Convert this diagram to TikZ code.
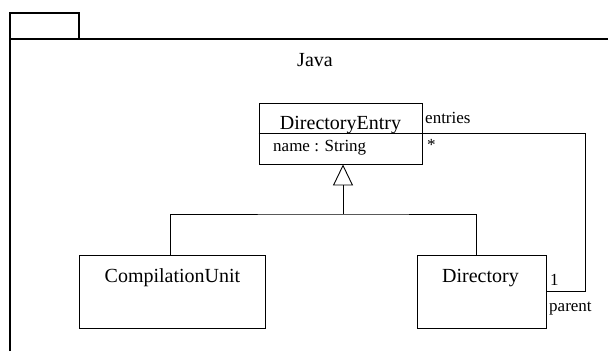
\documentclass[tikz,border=0pt]{standalone}
\usepackage{fontspec}
\setmainfont{Liberation Serif}
\usetikzlibrary{positioning,arrows.meta}

\tikzset{
  classbox/.style={draw, line width=0.9bp, inner sep=0pt},
  classname/.style={font=\fontsize{20bp}{24bp}\selectfont, inner sep=0pt},
  rolelabel/.style={font=\fontsize{17bp}{20bp}\selectfont, inner sep=0pt, anchor=base west},
  umlline/.style={line width=0.9bp},
}

\begin{document}
\begin{tikzpicture}[x=1bp, y=-1bp]
    \useasboundingbox (0,0) rectangle (608,351);

    % Package frame with its tab
    \node[draw, line width=1.1bp, minimum width=69bp, minimum height=26bp, inner sep=0pt] (tab) at (44.5,26) {};
    \coordinate (pkgbl) at (10,351);
    \coordinate (pkgtr) at (608,39);
    \draw[line width=1.1bp] (pkgbl) |- (pkgtr);
    \node[classname] (java) at (315,60) {Java};

    % Classes
    \node[classbox, minimum width=163bp, minimum height=61bp] (de) at (340.5,133.5) {};
    \draw[umlline] (de.west) -- (de.east);
    \node[classname, anchor=base] (deName) at (340.5,129) {DirectoryEntry};
    \node[rolelabel, font=\fontsize{17bp}{20bp}\selectfont] (deAttr) at (273,151) {name : String};

    \node[classbox, minimum width=186bp, minimum height=73bp] (cu) at (172,291.5) {};
    \node[classname, anchor=base] (cuName) at (172.5,282) {CompilationUnit};

    \node[classbox, minimum width=129bp, minimum height=73bp] (dir) at (481.5,291.5) {};
    \node[classname, anchor=base] (dirName) at (480.5,282) {Directory};

    % Generalization
    \coordinate (fork) at (343,214);
    \draw[umlline] ([xshift=-2bp]cu.north) |- (fork) -| ([xshift=-5.5bp]dir.north);
    \draw[umlline, -{Triangle[open, length=21bp, width=20bp]}] (fork) -- (fork |- de.south);

    % Association entries / parent
    \coordinate (loop) at (585,133.5);
    \draw[umlline] (de.east) -- (loop) |- (dir.east);
    \node[rolelabel] (entries) at (425,123) {entries};
    \node[rolelabel] (many) at (427,150) {*};
    \node[rolelabel] (one) at (550,285) {1};
    \node[rolelabel] (parent) at (549,311) {parent};

\end{tikzpicture}
\end{document}
